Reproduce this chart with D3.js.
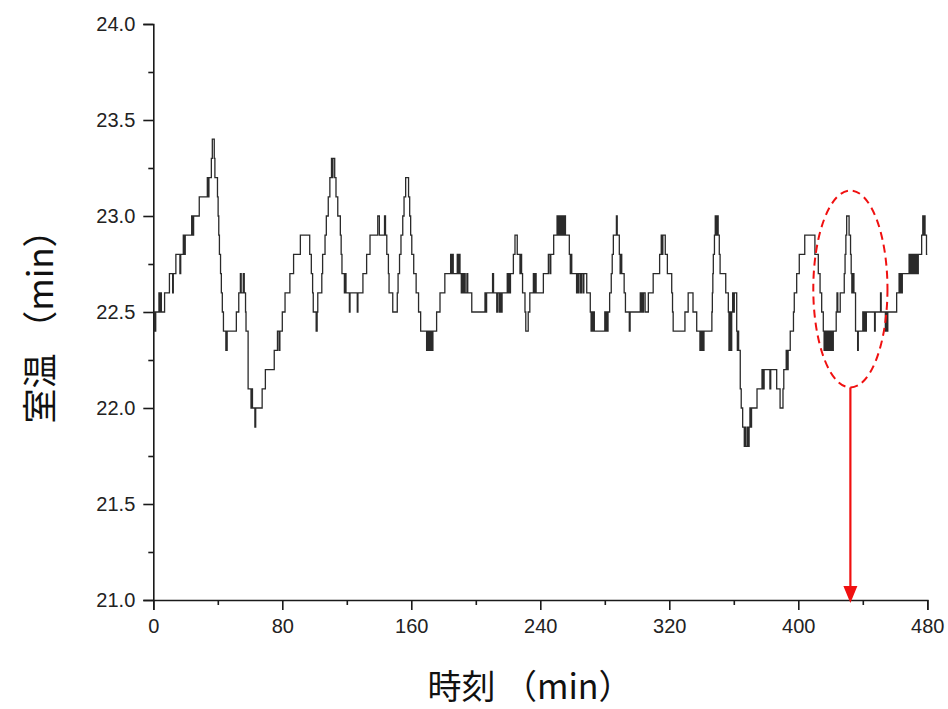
<!DOCTYPE html>
<html><head><meta charset="utf-8">
<script src="https://cdn.jsdelivr.net/npm/d3@7"></script>
<style>
html,body{margin:0;padding:0;background:#fff;}
svg{display:block;}
</style></head>
<body>
<svg id="chart" width="948" height="709"></svg>
<script>
// ---- data (step series: change time [min] and room temperature [°C]) ----
const times = [0,0.6,1.0,1.5,3.5,4.0,4.5,5.0,7.0,10.0,12.0,12.4,14.0,16.5,17.0,18.6,19.2,19.8,23.8,24.4,25.0,28.5,33.5,34.0,34.5,36.0,36.6,37.8,38.2,39.8,40.2,40.6,41.0,41.7,42.2,42.8,43.5,45.0,45.8,51.5,53.0,54.0,54.5,55.8,56.4,57.2,57.5,58.8,60.6,61.0,61.5,63.0,63.5,67.5,69.5,75.0,77.0,78.0,78.5,80.0,81.7,84.7,87.0,91.2,97.0,98.0,98.8,99.2,101.0,101.6,102.0,104.5,105.0,106.5,107.3,108.5,109.5,110.5,111.0,111.4,112.5,113.3,114.4,116.0,116.5,117.0,118.5,119.0,119.5,121.6,122.0,126.5,126.9,130.0,132.3,134.4,139.2,140.2,143.4,144.0,144.8,145.8,146.2,148.5,151.3,151.8,152.7,153.6,154.7,155.5,156.5,158.3,159.0,159.6,160.3,161.5,163.0,164.5,165.8,169.5,170.0,170.5,171.0,171.6,172.2,172.8,173.4,175.7,177.8,180.8,184.4,185.0,185.5,186.0,188.5,189.0,189.5,190.2,191.0,191.6,192.2,192.8,193.4,194.5,195.0,197.5,205.7,206.2,206.7,210.4,211.0,213.0,213.5,214.5,215.0,215.8,216.3,219.5,220.0,220.5,221.0,221.5,223.3,224.3,225.7,227.4,227.9,228.4,229.0,230.5,231.0,232.5,233.5,235.7,236.2,236.7,237.4,241.9,245.0,246.0,246.5,248.3,250.4,251.0,251.5,252.0,252.5,253.0,253.5,254.2,254.8,255.6,258.0,258.6,259.0,259.5,262.5,263.0,263.5,264.0,265.0,265.5,266.5,267.0,268.8,271.0,271.5,272.0,272.5,273.0,273.5,280.0,280.5,281.0,281.5,282.0,283.0,284.0,284.6,285.3,287.2,287.7,289.0,289.5,290.0,290.5,292.0,292.8,295.2,295.7,302.0,302.5,303.0,303.5,304.0,305.0,307.0,310.0,314.0,315.0,315.5,316.0,317.5,318.8,321.5,322.0,322.4,329.7,331.7,334.7,337.0,339.0,339.5,340.0,340.6,341.0,341.5,346.4,346.7,347.0,347.3,348.0,348.5,349.0,349.5,350.3,351.0,351.5,355.0,356.6,357.0,357.5,358.0,358.7,359.3,359.8,360.3,361.8,362.2,362.6,363.0,364.0,364.6,365.5,366.5,367.0,367.5,368.5,369.0,369.5,370.0,370.5,371.0,372.0,374.4,377.5,378.3,378.8,382.4,382.9,386.6,388.7,390.5,391.0,392.5,393.2,393.7,395.0,397.0,397.5,399.0,400.6,404.0,410.3,412.4,413.5,414.5,415.5,416.0,416.5,417.0,417.5,418.0,418.5,419.0,419.5,420.0,420.5,421.0,421.7,423.5,424.0,424.5,426.0,428.5,429.0,429.5,430.0,431.5,432.4,432.8,433.2,434.0,434.5,435.5,436.8,437.2,440.0,440.5,441.0,441.7,442.2,447.3,447.7,451.0,451.4,454.0,454.5,455.0,455.5,461.0,462.5,463.0,463.5,464.0,464.5,468.7,469.2,469.7,470.3,470.8,471.5,472.0,472.6,473.2,473.8,474.4,476.5,477.2,477.7,478.1,478.6,479.5,480.0];
const temps = [22.4,22.5,22.4,22.5,22.6,22.5,22.6,22.5,22.6,22.7,22.6,22.7,22.8,22.7,22.8,22.9,22.8,22.9,23.0,22.9,23.0,23.1,23.2,23.1,23.2,23.3,23.4,23.3,23.2,23.1,23.0,22.9,22.8,22.7,22.6,22.5,22.4,22.3,22.4,22.5,22.6,22.7,22.6,22.7,22.6,22.5,22.4,22.1,22.0,22.1,22.0,21.9,22.0,22.1,22.2,22.3,22.4,22.3,22.4,22.5,22.6,22.7,22.8,22.9,22.8,22.7,22.6,22.5,22.4,22.5,22.6,22.7,22.8,22.9,23.0,23.1,23.2,23.3,23.2,23.3,23.2,23.1,23.0,22.9,22.8,22.7,22.6,22.7,22.6,22.5,22.6,22.5,22.6,22.7,22.8,22.9,23.0,22.9,23.0,22.9,22.8,22.7,22.6,22.5,22.6,22.7,22.8,22.9,23.0,23.1,23.2,23.1,23.0,22.9,22.8,22.7,22.6,22.5,22.4,22.3,22.4,22.3,22.4,22.3,22.4,22.3,22.4,22.5,22.6,22.7,22.8,22.7,22.8,22.7,22.8,22.7,22.8,22.7,22.6,22.7,22.6,22.7,22.6,22.7,22.6,22.5,22.6,22.5,22.6,22.7,22.6,22.5,22.6,22.5,22.6,22.5,22.6,22.7,22.6,22.7,22.6,22.7,22.8,22.9,22.8,22.7,22.8,22.7,22.6,22.5,22.4,22.5,22.6,22.7,22.6,22.7,22.6,22.7,22.8,22.7,22.8,22.9,23.0,22.9,23.0,22.9,23.0,22.9,23.0,22.9,23.0,22.9,22.8,22.7,22.8,22.7,22.6,22.7,22.6,22.7,22.6,22.7,22.6,22.7,22.6,22.5,22.4,22.5,22.4,22.5,22.4,22.5,22.4,22.5,22.4,22.5,22.6,22.7,22.8,22.9,23.0,22.9,22.8,22.7,22.8,22.7,22.6,22.5,22.4,22.5,22.6,22.5,22.6,22.5,22.6,22.5,22.6,22.7,22.8,22.9,22.8,22.9,22.8,22.7,22.6,22.5,22.4,22.5,22.6,22.5,22.4,22.3,22.4,22.3,22.4,22.3,22.4,22.5,22.6,22.7,22.8,22.9,23.0,22.9,23.0,22.9,22.8,22.7,22.6,22.5,22.3,22.5,22.3,22.5,22.6,22.5,22.6,22.4,22.3,22.4,22.3,22.1,22.0,21.9,21.8,21.9,21.8,21.9,21.8,21.9,22.0,21.9,22.0,22.0,22.1,22.2,22.1,22.2,22.1,22.2,22.1,22.0,22.1,22.2,22.3,22.2,22.3,22.4,22.5,22.6,22.7,22.8,22.9,22.8,22.7,22.6,22.5,22.4,22.3,22.4,22.3,22.4,22.3,22.4,22.3,22.4,22.3,22.4,22.3,22.4,22.5,22.6,22.5,22.6,22.7,22.8,22.9,23.0,22.9,22.8,22.7,22.6,22.7,22.6,22.4,22.3,22.4,22.5,22.4,22.5,22.4,22.5,22.4,22.5,22.6,22.5,22.4,22.5,22.4,22.5,22.6,22.7,22.6,22.7,22.6,22.7,22.8,22.7,22.8,22.7,22.8,22.7,22.8,22.7,22.8,22.7,22.8,22.9,23.0,22.9,23.0,22.9,22.8,22.8];

const xMajorTicks = [0, 80, 160, 240, 320, 400, 480];
const xMinorTicks = [40, 120, 200, 280, 360, 440];
const yMajorTicks = [21.0, 21.5, 22.0, 22.5, 23.0, 23.5, 24.0];
const yMinorTicks = [21.25, 21.75, 22.25, 22.75, 23.25, 23.75];
const xTitle = "時刻 （min）";
const yTitle = "室温 （min）";
// annotation: ellipse around the peak (minutes / °C) and arrow down to the axis
const annoCenter = [432.3, 22.62];
const annoRadius = [23, 0.513];

// ---- layout ----
const svg = d3.select("#chart");
const x = d3.scaleLinear().domain([0, 480]).range([153.3, 927.3]);
const y = d3.scaleLinear().domain([21, 24]).range([600, 24]);

const axisColor = "#1a1a1a";
const tickFont = "'Liberation Sans', Arial, sans-serif";

// Y axis
svg.append("g").attr("transform", `translate(${x(0)},0)`)
  .call(d3.axisLeft(y).tickValues(yMajorTicks).tickFormat(d3.format(".1f")).tickSize(10).tickPadding(8));
svg.append("g").attr("transform", `translate(${x(0)},0)`)
  .call(d3.axisLeft(y).tickValues(yMinorTicks).tickFormat("").tickSize(5))
  .call(g => g.select(".domain").remove());

// X axis
svg.append("g").attr("transform", `translate(0,${y(21)})`)
  .call(d3.axisBottom(x).tickValues(xMajorTicks).tickFormat(d3.format("d")).tickSize(10).tickPadding(9));
svg.append("g").attr("transform", `translate(0,${y(21)})`)
  .call(d3.axisBottom(x).tickValues(xMinorTicks).tickFormat("").tickSize(5))
  .call(g => g.select(".domain").remove());

svg.selectAll(".domain").attr("stroke", axisColor).attr("stroke-width", 1.6);
svg.selectAll(".tick line").attr("stroke", axisColor).attr("stroke-width", 1.6);
svg.selectAll(".tick text").attr("fill", "#222").style("font-family", tickFont).style("font-size", "20px");

// data line
const data = times.map((t, i) => [t, temps[i]]);
const line = d3.line().x(d => x(d[0])).y(d => y(d[1])).curve(d3.curveStepAfter);
svg.append("path").datum(data)
  .attr("fill", "none").attr("stroke", "#2a2a2a").attr("stroke-width", 1.3)
  .attr("d", line);

// annotation
const cx = x(annoCenter[0]), cy = y(annoCenter[1]);
const rx = x(annoCenter[0] + annoRadius[0]) - cx;
const ry = cy - y(annoCenter[1] + annoRadius[1]);
svg.append("ellipse").attr("cx", cx).attr("cy", cy).attr("rx", rx).attr("ry", ry)
  .attr("fill", "none").attr("stroke", "#f01010").attr("stroke-width", 2)
  .attr("stroke-dasharray", "8,5");
const yBottom = y(21);
svg.append("line").attr("x1", cx).attr("x2", cx).attr("y1", cy + ry).attr("y2", yBottom - 12)
  .attr("stroke", "#f01010").attr("stroke-width", 2.2);
svg.append("path")
  .attr("d", `M${cx - 7},${yBottom - 14} L${cx + 7},${yBottom - 14} L${cx},${yBottom + 3} Z`)
  .attr("fill", "#f01010");

// titles
const titleFont = "'Noto Sans CJK JP', 'Noto Sans', sans-serif";
svg.append("text").attr("x", 530).attr("y", 699).attr("text-anchor", "middle")
  .style("font-family", titleFont).style("font-size", "34px").attr("fill", "#111")
  .text(xTitle);
svg.append("text").attr("transform", "translate(53,318) rotate(-90)").attr("text-anchor", "middle")
  .style("font-family", titleFont).style("font-size", "35px").attr("fill", "#111")
  .text(yTitle);
</script>
</body></html>
